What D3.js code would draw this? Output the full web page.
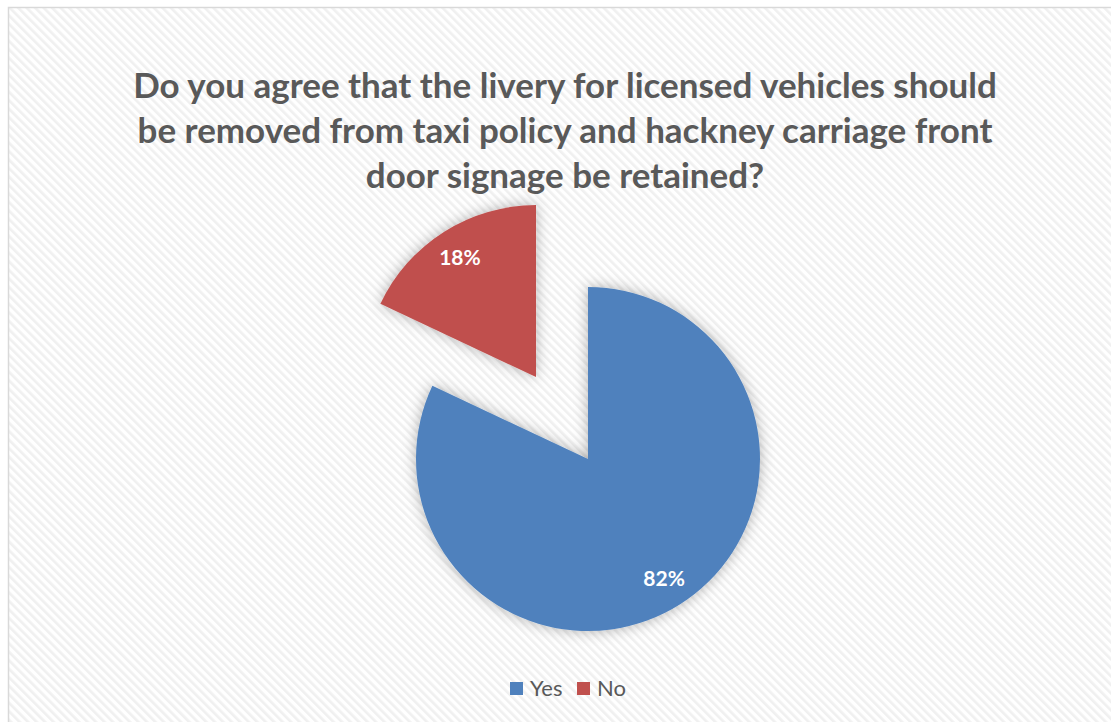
<!DOCTYPE html>
<html><head><meta charset="utf-8">
<script src="https://cdn.jsdelivr.net/npm/d3@7"></script>
<style>html,body{margin:0;padding:0;background:#fff;}svg{display:block;}</style>
</head><body>
<svg id="c" width="1111" height="722"></svg>
<script>
const categories = ["Yes", "No"];
const values = [82, 18];
const labels = ["82%", "18%"];
const titleLines = [
  "Do you agree that the livery for licensed vehicles should",
  "be removed from taxi policy and hackney carriage front",
  "door signage be retained?"
];
const colors = ["#4F81BD", "#C0504D"];
const explode = [0, 97];

const svg = d3.select("#c");
const defs = svg.append("defs");
const pat = defs.append("pattern").attr("id","hatch").attr("patternUnits","userSpaceOnUse")
  .attr("width",6).attr("height",6).attr("patternTransform","rotate(-45)");
pat.append("rect").attr("width",6).attr("height",6).attr("fill","#ffffff");
pat.append("rect").attr("x",0).attr("width",2.6).attr("height",6).attr("fill","#f0f0f0");

const f = defs.append("filter").attr("id","sh").attr("x","-30%").attr("y","-30%").attr("width","160%").attr("height","160%");
f.append("feDropShadow").attr("dx",0).attr("dy",0).attr("stdDeviation",7).attr("flood-color","#000").attr("flood-opacity",0.3);

svg.append("rect").attr("x",8.5).attr("y",7.5).attr("width",1120).attr("height",730)
  .attr("fill","url(#hatch)").attr("stroke","#d9d9d9").attr("stroke-width",1.5);

// title
const tg = svg.append("g").attr("fill","#595959").attr("font-family","Lato, 'Open Sans', sans-serif")
  .attr("font-weight","bold").attr("text-anchor","middle");
const baseSize = 34;
const tt = tg.selectAll("text").data(titleLines).join("text")
  .attr("x",565).attr("y",(d,i)=>98+i*45).attr("font-size",baseSize).text(d=>d);
const w0 = tt.nodes()[0].getComputedTextLength();
const fs = baseSize*864/w0;
tt.attr("font-size",fs);

// pie
const cx = 588, cy = 459, r = 172;
const pie = d3.pie().sort(null).value(d=>d)(values);
const arc = d3.arc().innerRadius(0).outerRadius(r);
const g = svg.append("g").attr("transform",`translate(${cx},${cy})`);
const sl = g.selectAll("g.s").data(pie).join("g").attr("class","s")
  .attr("transform",(d,i)=>{
    const a=(d.startAngle+d.endAngle)/2;
    return `translate(${explode[i]*Math.sin(a)},${-explode[i]*Math.cos(a)})`;
  });
sl.append("path").attr("d",arc).attr("fill",(d,i)=>colors[i]).attr("filter","url(#sh)");
sl.append("text").attr("transform",d=>{
    const a=(d.startAngle+d.endAngle)/2, lr=142;
    return `translate(${lr*Math.sin(a)},${-lr*Math.cos(a)})`;
  }).attr("text-anchor","middle").attr("dy","0.36em")
  .attr("fill","#fff").attr("font-family","Lato, 'Open Sans', sans-serif").attr("font-weight","bold")
  .attr("font-size",21).text((d,i)=>labels[i]);

// legend
const lg = svg.append("g").attr("font-family","Lato, 'Open Sans', sans-serif").attr("font-size",22).attr("fill","#595959");
const legX = [510, 577];
categories.forEach((c,i)=>{
  lg.append("rect").attr("x",legX[i]).attr("y",682).attr("width",13).attr("height",13).attr("fill",colors[i]);
  lg.append("text").attr("x",legX[i]+20).attr("y",696).text(c);
});
</script>
</body></html>
